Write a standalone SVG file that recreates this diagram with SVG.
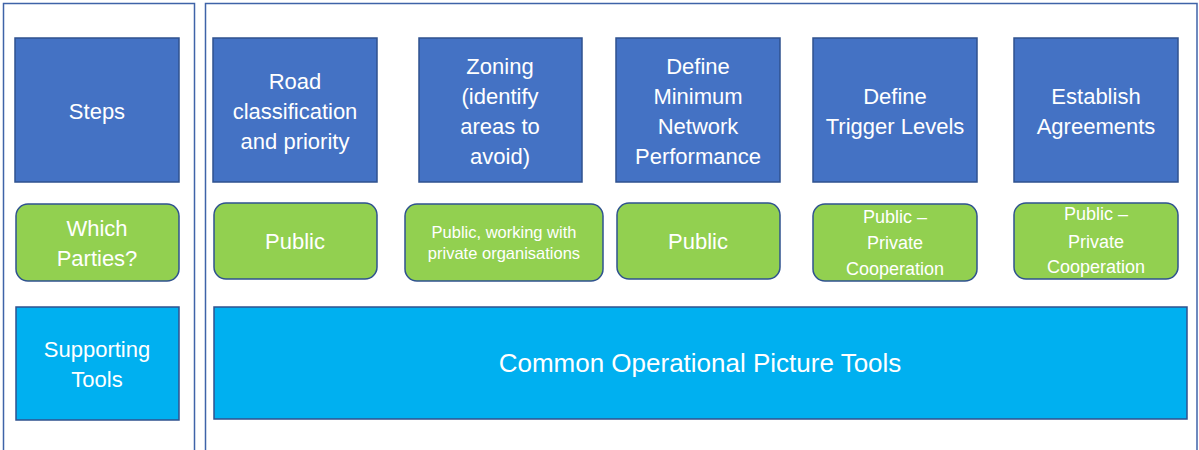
<svg xmlns="http://www.w3.org/2000/svg" width="1199" height="450" viewBox="0 0 1199 450">
<style>
.panel{fill:#fff;stroke:#3F63A8;stroke-width:1.5}
.step{fill:#4472C4;stroke:#2F528F;stroke-width:1.5}
.party{fill:#92D050;stroke:#2F528F;stroke-width:1.5}
.tool{fill:#00B0F0;stroke:#2F528F;stroke-width:1.5}
text{font-family:"Liberation Sans",Arial,sans-serif;fill:#fff;text-anchor:middle}
.t22{font-size:22px}
.t18{font-size:18px}
.t16{font-size:16.5px}
.t25{font-size:26px}
</style>
<rect width="1199" height="450" fill="#fff"/>
<g id="panel-left"><rect class="panel" x="3.5" y="3.5" width="191" height="470"/></g>
<g id="panel-right"><rect class="panel" x="205.5" y="3.5" width="991.5" height="470"/></g>
<g id="connectors"></g>
<g id="steps"><rect class="step" x="15" y="38" width="164" height="144"/><text class="t22" x="97" y="119">Steps</text></g>
<g id="road"><rect class="step" x="213" y="38" width="164" height="144"/><text class="t22" x="295"><tspan x="295" y="89">Road</tspan><tspan x="295" y="119">classification</tspan><tspan x="295" y="149">and priority</tspan></text></g>
<g id="zoning"><rect class="step" x="419" y="38" width="163" height="144"/><text class="t22" x="500"><tspan x="500" y="74">Zoning</tspan><tspan x="500" y="104">(identify</tspan><tspan x="500" y="134">areas to</tspan><tspan x="500" y="164">avoid)</tspan></text></g>
<g id="minimum"><rect class="step" x="616" y="38" width="164" height="144"/><text class="t22" x="698"><tspan x="698" y="74">Define</tspan><tspan x="698" y="104">Minimum</tspan><tspan x="698" y="134">Network</tspan><tspan x="698" y="164">Performance</tspan></text></g>
<g id="trigger"><rect class="step" x="813" y="38" width="164" height="144"/><text class="t22" x="895"><tspan x="895" y="104">Define</tspan><tspan x="895" y="134">Trigger Levels</tspan></text></g>
<g id="agreements"><rect class="step" x="1014" y="38" width="164" height="144"/><text class="t22" x="1096"><tspan x="1096" y="104">Establish</tspan><tspan x="1096" y="134">Agreements</tspan></text></g>
<g id="which-parties"><rect class="party" x="16" y="204" width="163" height="77" rx="12"/><text class="t22" x="97"><tspan x="97" y="236">Which</tspan><tspan x="97" y="266">Parties?</tspan></text></g>
<g id="party-road"><rect class="party" x="214" y="203" width="163" height="76" rx="12"/><text class="t22" x="295" y="249">Public</text></g>
<g id="party-zoning"><rect class="party" x="405" y="204" width="198" height="77" rx="12"/><text class="t16" x="504"><tspan x="504" y="238">Public, working with</tspan><tspan x="504" y="259">private organisations</tspan></text></g>
<g id="party-minimum"><rect class="party" x="617" y="203" width="163" height="76" rx="12"/><text class="t22" x="698" y="249">Public</text></g>
<g id="party-trigger"><rect class="party" x="813" y="204" width="164" height="77" rx="12"/><text class="t18" x="895"><tspan x="895" y="223">Public –</tspan><tspan x="895" y="249">Private</tspan><tspan x="895" y="275">Cooperation</tspan></text></g>
<g id="party-agreements"><rect class="party" x="1014" y="203" width="164" height="76" rx="12"/><text class="t18" x="1096"><tspan x="1096" y="220">Public –</tspan><tspan x="1096" y="248">Private</tspan><tspan x="1096" y="273">Cooperation</tspan></text></g>
<g id="supporting-tools"><rect class="tool" x="16" y="307" width="163" height="113"/><text class="t22" x="97"><tspan x="97" y="357">Supporting</tspan><tspan x="97" y="387">Tools</tspan></text></g>
<g id="cop-tools"><rect class="tool" x="214" y="307" width="973" height="112"/><text class="t25" x="700" y="372">Common Operational Picture Tools</text></g>
</svg>
